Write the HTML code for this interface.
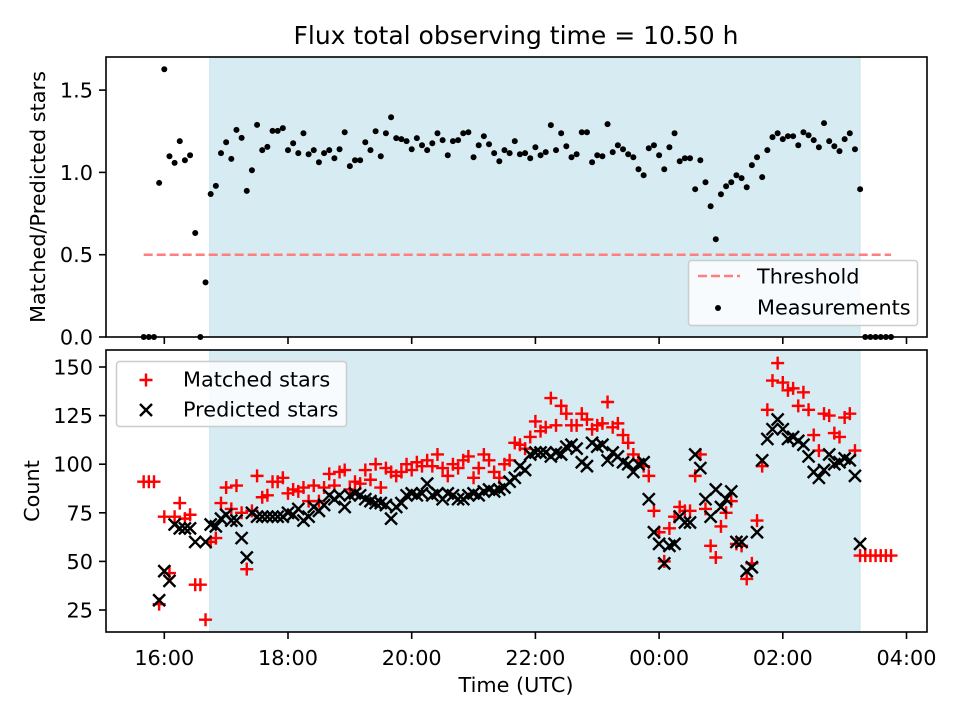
<!DOCTYPE html>
<html><head><meta charset="utf-8"><style>
body{margin:0;background:#fff;}
svg{display:block;font-family:"DejaVu Sans","Liberation Sans",sans-serif;}
</style></head><body>
<svg id="chart" width="960" height="720" viewBox="0 0 960 720">
<rect width="960" height="720" fill="#fff"/>
<text x="516" y="44" font-size="25" text-anchor="middle" fill="#000">Flux total observing time = 10.50 h</text>
<g id="top"></g><g id="bot"></g>
</svg>
<script>
// minutes relative to 16:00 UTC
const times=[-20,-15,-10,-5,0,5,10,15,20,25,30,35,40,45,50,55,60,65,70,75,80,85,90,95,100,105,110,115,120,125,130,135,140,145,150,155,160,165,170,175,180,185,190,195,200,205,210,215,220,225,230,235,240,245,250,255,260,265,270,275,280,285,290,295,300,305,310,315,320,325,330,335,340,345,350,355,360,365,370,375,380,385,390,395,400,405,410,415,420,425,430,435,440,445,450,455,460,465,470,475,480,485,490,495,500,505,510,515,520,525,530,535,540,545,550,555,560,565,570,575,580,585,590,595,600,605,610,615,620,625,630,635,640,645,650,655,660,665,670,675,680,685,690,695,700,705];
const ratio=[0,0,0,0.936,1.627,1.098,1.058,1.19,1.074,1.104,0.632,0,0.332,0.869,0.918,1.117,1.183,1.082,1.258,1.21,0.888,1.013,1.289,1.135,1.155,1.252,1.252,1.269,1.135,1.177,1.117,1.238,1.11,1.135,1.062,1.117,1.135,1.086,1.141,1.244,1.038,1.074,1.074,1.183,1.135,1.25,1.098,1.238,1.335,1.208,1.202,1.19,1.141,1.208,1.165,1.135,1.177,1.238,1.196,1.104,1.19,1.196,1.238,1.244,1.092,1.165,1.22,1.171,1.117,1.068,1.135,1.117,1.19,1.11,1.117,1.086,1.153,1.104,1.123,1.287,1.135,1.238,1.159,1.092,1.11,1.244,1.244,1.062,1.104,1.098,1.293,1.123,1.165,1.141,1.11,1.092,1.019,0.983,1.147,1.165,1.104,1.019,1.153,1.238,1.068,1.086,1.086,0.898,1.074,0.94,0.794,0.594,0.867,0.916,0.94,0.983,0.965,0.91,1.044,1.092,0.971,1.135,1.214,1.238,1.202,1.22,1.22,1.165,1.244,1.226,1.196,1.153,1.299,1.19,1.159,1.129,1.202,1.238,1.141,0.898,0,0,0,0,0,0];
const matched=[91,91,91,28,73,44,73,80,72,74,38,38,20,60,62,80,88,77,89,75,46,76,94,83,84,91,91,93,85,87,86,88,81,89,81,88,95,89,96,97,87,91,90,97,92,100,88,98,96,94,96,100,97,101,99,102,99,105,98,94,100,98,102,104,93,98,105,102,96,93,100,102,111,110,108,114,122,117,119,134,120,130,126,120,120,126,123,118,120,121,132,119,121,115,111,105,102,99,94,76,65,50,67,73,78,76,76,94,105,77,58,52,68,75,81,59,58,41,49,71,99,128,143,152,142,138,139,130,137,128,115,107,126,125,116,114,124,126,107,53,53,53,53,53,53,53];
const predicted=[null,null,null,30,45,40,69,67,67,67,60,null,60,69,68,72,74,71,71,62,52,75,73,73,73,73,73,73,75,74,77,71,73,78,76,79,84,82,84,78,84,85,84,82,81,80,80,79,72,78,80,84,85,84,85,90,84,85,82,85,84,82,82,84,85,84,86,87,86,87,88,91,93,99,97,105,106,106,106,104,106,105,109,110,108,101,99,111,109,110,102,106,104,101,100,96,100,101,82,65,59,49,58,59,73,70,70,105,98,82,73,87,78,82,86,60,60,45,47,65,102,113,118,123,118,113,114,112,110,104,96,93,97,105,100,101,103,102,94,59,null,null,null,null,null,null];
const xTickMins=[0,120,240,360,480,600,720];
const xTickLabels=["16:00","18:00","20:00","22:00","00:00","02:00","04:00"];
const topTicks=[0,0.5,1.0,1.5];
const topTickLabels=["0.0","0.5","1.0","1.5"];
const botTicks=[25,50,75,100,125,150];
const threshold=[0.5];
const shadeStart=44, shadeEnd=675; // minutes after 16:00

const NS="http://www.w3.org/2000/svg";
const L=106,R=927;
const FS=20.8;
const xS=m=>164.3+m/60*61.85;
const yTop=v=>337-v*164.6;
const yBot=v=>610-(v-25)*1.944;
function mk(p,tag,a){const e=document.createElementNS(NS,tag);for(const k in a)e.setAttribute(k,a[k]);p.appendChild(e);return e;}
const gT=document.getElementById('top'),gB=document.getElementById('bot');

function axes(g,t,b,name){
  let s=mk(g,'rect',{x:xS(shadeStart),y:t,width:xS(shadeEnd)-xS(shadeStart),height:b-t,fill:'#add8e6','fill-opacity':0.5,stroke:'#add8e6','stroke-opacity':0.5});
  
  
}
axes(gT,57,337,'top');
axes(gB,350,632,'bottom');

let th=mk(gT,'line',{x1:xS(times[0]),x2:xS(times[times.length-1]),y1:yTop(threshold[0]),y2:yTop(threshold[0]),stroke:'#ff7f7f','stroke-width':2.5,'stroke-dasharray':'9,4'});



ratio.forEach((v,i)=>{
  const c=mk(gT,'circle',{cx:xS(times[i]),cy:yTop(v),r:3,fill:'#000'});
  
  
});

function plus(g,x,y){return mk(g,'path',{d:`M${x-6.5},${y}h13M${x},${y-6.5}v13`,stroke:'#f00','stroke-width':2.4,fill:'none'});}
function cross(g,x,y){return mk(g,'path',{d:`M${x-6},${y-6}l12,12M${x-6},${y+6}l12,-12`,stroke:'#000','stroke-width':2.4,fill:'none'});}
matched.forEach((v,i)=>{if(v==null)return;
  const p=plus(gB,xS(times[i]),yBot(v));
  
  
});
predicted.forEach((v,i)=>{if(v==null)return;
  const p=cross(gB,xS(times[i]),yBot(v));
  
  
});

function frame(g,t,b,name){
  const f=mk(g,'rect',{x:L,y:t,width:R-L,height:b-t,fill:'none',stroke:'#000','stroke-width':1.6});
  
  
  xTickMins.forEach(m=>{
    const tk=mk(g,'line',{x1:xS(m),x2:xS(m),y1:b,y2:b+7,stroke:'#000','stroke-width':1.6});
    
    
  });
}
frame(gT,57,337,'top');
frame(gB,350,632,'bottom');

topTicks.forEach((v,i)=>{
  mk(gT,'line',{x1:L-7,x2:L,y1:yTop(v),y2:yTop(v),stroke:'#000','stroke-width':1.6});
  const t=mk(gT,'text',{x:L-13,y:yTop(v)+7.5,'font-size':FS,'text-anchor':'end'});t.textContent=topTickLabels[i];
  
  
});
botTicks.forEach(v=>{
  mk(gB,'line',{x1:L-7,x2:L,y1:yBot(v),y2:yBot(v),stroke:'#000','stroke-width':1.6});
  const t=mk(gB,'text',{x:L-13,y:yBot(v)+7.5,'font-size':FS,'text-anchor':'end'});t.textContent=String(v);
  
  
});
xTickMins.forEach((m,i)=>{
  const t=mk(gB,'text',{x:xS(m),y:665,'font-size':FS,'text-anchor':'middle'});t.textContent=xTickLabels[i];
  
  
});
let xl=mk(gB,'text',{x:516,y:692,'font-size':FS,'text-anchor':'middle'});xl.textContent='Time (UTC)';


let yl1=mk(gT,'text',{x:0,y:0,'font-size':FS,'text-anchor':'middle',transform:'translate(45,197) rotate(-90)'});yl1.textContent='Matched/Predicted stars';


let yl2=mk(gB,'text',{x:0,y:0,'font-size':FS,'text-anchor':'middle',transform:'translate(39,491) rotate(-90)'});yl2.textContent='Count';



let lg1=mk(gT,'g',{});


mk(lg1,'rect',{x:688.5,y:260.5,width:229,height:65,rx:3,fill:'#fff','fill-opacity':0.8,stroke:'#ccc','stroke-width':1.5});
mk(lg1,'line',{x1:698,x2:740,y1:276,y2:276,stroke:'#ff7f7f','stroke-width':2.5,'stroke-dasharray':'9,4'});
let lt1=mk(lg1,'text',{x:757,y:283.5,'font-size':FS});lt1.textContent='Threshold';
mk(lg1,'circle',{cx:718,cy:308,r:3,fill:'#000'});
let lt2=mk(lg1,'text',{x:757,y:314.5,'font-size':FS});lt2.textContent='Measurements';

let lg2=mk(gB,'g',{});


mk(lg2,'rect',{x:116.5,y:361.5,width:230,height:65,rx:3,fill:'#fff','fill-opacity':0.8,stroke:'#ccc','stroke-width':1.5});
plus(lg2,146,380);
let lt3=mk(lg2,'text',{x:183,y:386.5,'font-size':FS});lt3.textContent='Matched stars';
cross(lg2,146,410);
let lt4=mk(lg2,'text',{x:183,y:416.5,'font-size':FS});lt4.textContent='Predicted stars';
</script>
</body></html>
